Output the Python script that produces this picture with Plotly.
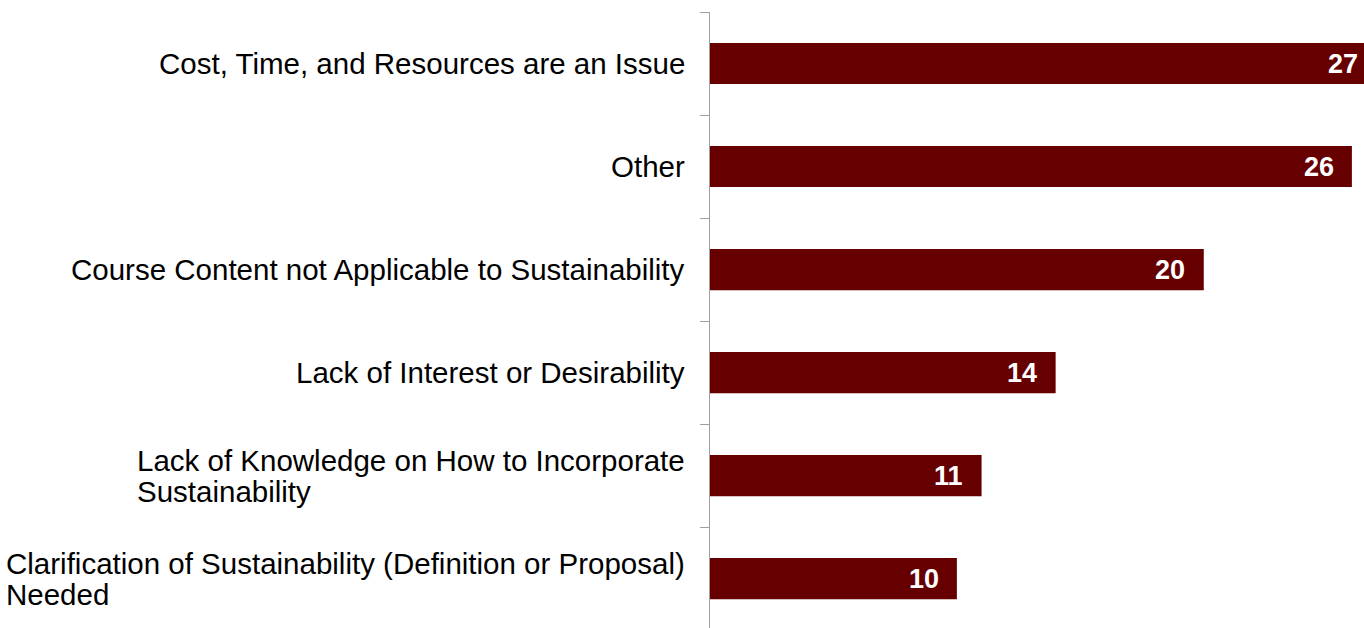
import plotly.graph_objects as go

# Survey responses: reasons given, with number of respondents
categories = [
    "Cost, Time, and Resources are an Issue",
    "Other",
    "Course Content not Applicable to Sustainability",
    "Lack of Interest or Desirability",
    "Lack of Knowledge on How to Incorporate<br>Sustainability",
    "Clarification of Sustainability (Definition or Proposal)<br>Needed",
]
counts = [27, 26, 20, 14, 11, 10]

BAR_COLOR = "#660000"
FONT = "Liberation Sans, Arial, sans-serif"
LABEL_INSET = 0.66  # value labels sit just inside the bar end (data units)

fig = go.Figure(
    go.Bar(
        x=counts,
        y=categories,
        orientation="h",
        width=0.4,
        marker=dict(color=BAR_COLOR, line=dict(width=0)),
        hoverinfo="skip",
    )
)

annotations = []
# Category labels: block right-aligned to the axis, lines left-aligned
for cat in categories:
    annotations.append(
        dict(
            xref="paper", x=0, xanchor="right", xshift=-23,
            yref="y", y=cat, yanchor="middle",
            text=f'<span style="font-size:29.5px">{cat}</span>',
            align="left", showarrow=False,
            font=dict(family=FONT, size=24, color="#000000"),
        )
    )
# Value labels inside the bar ends
for cat, v in zip(categories, counts):
    annotations.append(
        dict(
            xref="x", x=v - LABEL_INSET, xanchor="right",
            yref="y", y=cat, yanchor="middle",
            text=f"<b>{v}</b>", showarrow=False,
            font=dict(family=FONT, size=27, color="#ffffff"),
        )
    )

fig.update_layout(
    width=1364,
    height=628,
    margin=dict(l=710, r=0, t=12, b=0),
    paper_bgcolor="#ffffff",
    plot_bgcolor="#ffffff",
    showlegend=False,
    annotations=annotations,
    xaxis=dict(range=[0, 26.49], visible=False, fixedrange=True),
    yaxis=dict(
        type="category",
        categoryorder="array",
        categoryarray=categories,
        range=[5.48, -0.5],
        showticklabels=False,
        showgrid=False,
        zeroline=False,
        showline=True,
        linecolor="#a0a0a0",
        linewidth=1,
        ticks="outside",
        tickson="boundaries",
        ticklen=9,
        tickcolor="#a0a0a0",
        tickwidth=1,
        fixedrange=True,
    ),
)

fig.write_html("out.html")
